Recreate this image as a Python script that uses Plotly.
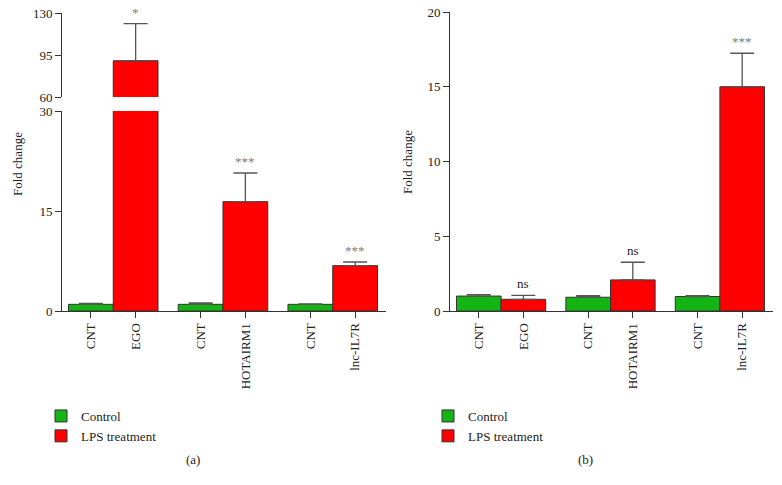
import plotly.graph_objects as go

# ---------------- data ----------------
bar_labels = ["CNT", "EGO", "CNT", "HOTAIRM1", "CNT", "lnc-IL7R"]
genes = ["EGO", "HOTAIRM1", "lnc-IL7R"]

# panel (a)
a_control = [1.0, 1.0, 1.0]
a_control_err = [0.15, 0.2, 0.05]
a_lps = [90.2, 16.4, 6.8]
a_lps_err = [31.0, 4.3, 0.55]
a_sig = ["*", "***", "***"]

# panel (b)
b_control = [1.0, 0.92, 0.97]
b_control_err = [0.1, 0.1, 0.06]
b_lps = [0.78, 2.08, 15.0]
b_lps_err = [0.27, 1.18, 2.24]
b_sig = ["ns", "ns", "***"]

lower_ticks = [0, 15, 30]
upper_ticks = [60, 95, 130]
b_ticks = [0, 5, 10, 15, 20]

# ---------------- styling ----------------
W, H = 782, 485
FONT = "Liberation Serif, Times New Roman, serif"
GREEN = "#14b414"
RED = "#ff0000"
LINE = "#333333"
ERR = "#555555"
STAR = "#7a7a7a"
TXT = "#222222"

def fx(p):
    return p / W

def fy(p):
    return 1 - p / H

PITCH = 2.452  # group spacing in bar widths
ctrl_x = [g * PITCH for g in range(len(genes))]
lps_x = [g * PITCH + 1 for g in range(len(genes))]
tick_x = [v for pair in zip(ctrl_x, lps_x) for v in pair]
XRANGE = [-0.645, 2 * PITCH + 1.5 + 0.19]

fig = go.Figure()

def bar(x, y, err, color, name, xa, ya, showlegend, legend="legend"):
    return go.Bar(
        x=x, y=y, width=1, name=name,
        marker=dict(color=color, line=dict(color=LINE, width=1)),
        error_y=dict(type="data", array=err, arrayminus=[0] * len(err),
                     symmetric=False, color=ERR, thickness=1.3, width=12),
        xaxis=xa, yaxis=ya, showlegend=showlegend, legend=legend,
        hoverinfo="skip",
    )

# panel (a) lower part
fig.add_trace(bar(ctrl_x, a_control, a_control_err, GREEN, "Control", "x", "y", True))
fig.add_trace(bar(lps_x, a_lps, a_lps_err, RED, "LPS treatment", "x", "y", True))
# panel (a) upper part (broken axis)
fig.add_trace(bar(lps_x, a_lps, a_lps_err, RED, "LPS treatment", "x3", "y3", False))
# panel (b)
fig.add_trace(bar(ctrl_x, b_control, b_control_err, GREEN, "Control", "x2", "y2", True, "legend2"))
fig.add_trace(bar(lps_x, b_lps, b_lps_err, RED, "LPS treatment", "x2", "y2", True, "legend2"))

axis_common = dict(showline=True, linecolor=LINE, linewidth=1, ticks="outside",
                   ticklen=6, tickcolor=LINE, showgrid=False, zeroline=False,
                   automargin=False,
                   tickfont=dict(family=FONT, size=13, color=TXT))

xcommon = dict(axis_common, range=XRANGE, tickvals=tick_x, ticktext=bar_labels,
               tickangle=-90)

fig.update_layout(
    width=W, height=H,
    margin=dict(l=0, r=0, t=0, b=0, pad=0, autoexpand=False),
    paper_bgcolor="white", plot_bgcolor="white",
    barmode="overlay",
    font=dict(family=FONT, size=13, color=TXT),
    xaxis=dict(xcommon, domain=[fx(62), fx(386)], anchor="y"),
    yaxis=dict(axis_common, domain=[fy(311), fy(111)], range=[0, 30],
               tickvals=lower_ticks, anchor="x"),
    xaxis3=dict(domain=[fx(62), fx(386)], range=XRANGE, matches="x",
                anchor="y3", visible=False),
    yaxis3=dict(axis_common, domain=[fy(97), fy(13)], range=[60, 130],
                tickvals=upper_ticks, anchor="x3"),
    xaxis2=dict(xcommon, domain=[fx(450), fx(773)], anchor="y2"),
    yaxis2=dict(axis_common, domain=[fy(311), fy(12)], range=[0, 20],
                tickvals=b_ticks, anchor="x2"),
    legend=dict(x=fx(41), y=fy(401), xanchor="left", yanchor="top",
                font=dict(family=FONT, size=13, color=TXT),
                bgcolor="rgba(0,0,0,0)", tracegroupgap=0),
    legend2=dict(x=fx(428), y=fy(401), xanchor="left", yanchor="top",
                 font=dict(family=FONT, size=13, color=TXT),
                 bgcolor="rgba(0,0,0,0)", tracegroupgap=0),
)

ann = []
# significance marks
for i, (v, e, s) in enumerate(zip(a_lps, a_lps_err, a_sig)):
    top = v + e
    ya = "y3" if top > 30 else "y"
    ann.append(dict(x=lps_x[i], y=top, xref="x", yref=ya, text=s, showarrow=False,
                    yanchor="bottom", yshift=2,
                    font=dict(family=FONT, size=13, color=STAR)))
for i, (v, e, s) in enumerate(zip(b_lps, b_lps_err, b_sig)):
    ann.append(dict(x=lps_x[i], y=v + e, xref="x2", yref="y2", text=s, showarrow=False,
                    yanchor="bottom", yshift=2,
                    font=dict(family=FONT, size=13, color=STAR if s != "ns" else TXT)))
# axis titles
for xp, yp in [(17, 164), (408, 162)]:
    ann.append(dict(x=fx(xp), y=fy(yp), xref="paper", yref="paper", text="Fold change",
                    textangle=-90, showarrow=False, xanchor="center", yanchor="middle",
                    font=dict(family=FONT, size=13, color=TXT)))
# panel labels
for xp, t in [(193, "(a)"), (585, "(b)")]:
    ann.append(dict(x=fx(xp), y=fy(459), xref="paper", yref="paper", text=t,
                    showarrow=False, xanchor="center", yanchor="middle",
                    font=dict(family=FONT, size=13, color=TXT)))
fig.update_layout(annotations=ann)

fig.write_html("out.html", config={"displayModeBar": False},
               post_script="document.body.style.margin='0px';")
